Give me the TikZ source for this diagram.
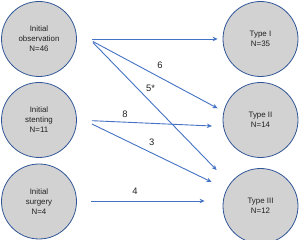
\documentclass[tikz,border=0pt]{standalone}
\usepackage{fontspec}
\setmainfont{Liberation Sans}
\usetikzlibrary{arrows.meta}
\definecolor{ring}{HTML}{2F5597}
\definecolor{flow}{HTML}{4472C4}
\definecolor{disc}{HTML}{D2D2D2}
\definecolor{ink}{HTML}{222222}

\begin{document}
\begin{tikzpicture}[x=1pt,y=-1pt,
  grp/.style={circle,draw=ring,fill=disc,line width=0.8pt,minimum size=75pt,
    inner sep=0pt,align=center,text=ink,font=\fontsize{7.9}{10}\selectfont},
  flw/.style={-{Stealth[length=5pt,width=4.5pt]},flow,line width=0.9pt},
  cnt/.style={text=ink,font=\fontsize{9.4}{10}\selectfont}]
  \useasboundingbox (0,0) rectangle (300,240);
  % starting groups
  \node[grp] (obs) at (39,39) {Initial\\observation\\N=46};
  \node[grp] (stent) at (39,120) {Initial\\stenting\\N=11};
  \node[grp] (surg) at (39,201.5) {Initial\\surgery\\N=4};
  % outcome types
  \node[grp] (t1) at (260.5,39) {Type I\\N=35};
  \node[grp] (t2) at (260.5,120) {Type II\\N=14};
  \node[grp] (t3) at (260.5,206) {Type III\\N=12};
  % transitions
  \draw[flw] ([xshift=15pt]obs.east) -- ([xshift=-5pt]t1.west);
  \draw[flw] ([xshift=16pt,yshift=-2.5pt]obs.east) -- ([xshift=-5pt,yshift=11.7pt]t2.west);
  \draw[flw] ([xshift=16pt,yshift=-3.5pt]obs.east) -- ([xshift=-6pt,yshift=36pt]t3.west);
  \draw[flw] ([xshift=15pt,yshift=-0.7pt]stent.east) -- ([xshift=-10.7pt,yshift=-6pt]t2.west);
  \draw[flw] ([xshift=15pt,yshift=-4pt]stent.east) -- ([xshift=-11pt,yshift=24pt]t3.west);
  \draw[flw] ([xshift=14pt,yshift=0.5pt]surg.east) -- ([xshift=-18pt,yshift=5pt]t3.west);
  % counts
  \node[cnt] (n6) at (160,65.7) {6};
  \node[cnt] (n5) at (150.5,88) {5*};
  \node[cnt] (n8) at (125,114) {8};
  \node[cnt] (n3) at (151.7,142.7) {3};
  \node[cnt] (n4) at (135,191) {4};
\end{tikzpicture}
\end{document}
